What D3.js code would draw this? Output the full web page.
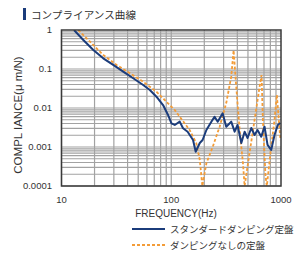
<!DOCTYPE html>
<html><head><meta charset="utf-8">
<script src="https://cdn.jsdelivr.net/npm/d3@7"></script>
<style>html,body{margin:0;padding:0;background:#fff;}svg{display:block;}</style>
</head><body>
<svg id="c" width="307" height="254"></svg>
<script>
const title = "コンプライアンス曲線";
const xLabel = "FREQUENCY(Hz)";
const yLabel = "COMPL IANCE(μ m/N)";
const xTicks = [10, 100, 1000];
const xTickLabels = ["10", "100", "1000"];
const yTicks = [1, 0.1, 0.01, 0.001, 0.0001];
const yTickLabels = ["1", "0.1", "0.01", "0.001", "0.0001"];
const seriesNames = ["スタンダードダンピング定盤", "ダンピングなしの定盤"];

const stdFreq = [13.0,15.8,19.5,24.0,29.6,36.5,45.0,55.5,63.8,73.3,84.2,93.5,100.4,107.6,119.5,128,141,158,167,182,193,209,232,248,265,294,317,352,378,402,435,466,496,536,574,611,661,708,754,814,873,935,989];
const stdComp = [1,0.554,0.307,0.188,0.127,0.0853,0.0578,0.0389,0.029,0.0195,0.0119,0.00662,0.00405,0.00367,0.00446,0.00302,0.00247,0.00151,0.000757,0.00127,0.00151,0.00273,0.00446,0.00598,0.00446,0.00731,0.00332,0.00446,0.00247,0.00367,0.00127,0.00247,0.0017,0.00307,0.00203,0.00273,0.00184,0.00332,0.00113,0.000838,0.00203,0.00367,0.00412];

const undFreq = [14.2,18.2,24.0,31.8,42.0,55.5,73.3,90.3,107.6,119.5,147,169,182,192,209,239,276,317,352,370,391,420,450,466,517,574,638,665,684,723,743,814,873,916,955,989];
const undComp = [1,0.501,0.229,0.127,0.0776,0.0472,0.0262,0.0145,0.0089,0.00598,0.00273,0.00127,0.000464,0.0001,0.000382,0.00102,0.00332,0.0134,0.0635,0.3,0.0352,0.00273,0.00039,0.0001,0.0007,0.00492,0.0352,0.07,0.00492,0.000174,0.0001,0.00102,0.00492,0.0216,0.00492,0.0015];

const navy = "#1b3c7b", orange = "#f39c38";
const svg = d3.select("#c");
const L = 61.5, R = 281, T = 30, B = 186;
const x = d3.scaleLog().domain([10, 1000]).range([L, R]);
const y = d3.scaleLog().domain([0.0001, 1]).range([B, T]);

// title
svg.append("rect").attr("x", 23).attr("y", 8).attr("width", 3).attr("height", 12).attr("fill", navy);
svg.append("text").attr("x", 31).attr("y", 18.5).attr("font-family", "'Noto Sans CJK JP'")
  .attr("font-size", 10.6).attr("fill", "#333").text(title);

// plot bg + grid
svg.append("rect").attr("x", L).attr("y", T).attr("width", R - L).attr("height", B - T).attr("fill", "#fff");
const g = svg.append("g");
const xMinor = [];
for (let d = 10; d < 1000; d *= 10) for (let k = 1; k < 10; k++) xMinor.push(d * k);
const yMinor = [];
for (let d = 0.0001; d < 1; d *= 10) for (let k = 1; k < 10; k++) yMinor.push(+(d * k).toPrecision(3));
g.selectAll(".vx").data(xMinor).join("line")
  .attr("x1", d => x(d)).attr("x2", d => x(d)).attr("y1", T).attr("y2", B)
  .attr("stroke", "#a2a2a2").attr("stroke-width", 1.2);
g.selectAll(".hy").data(yMinor).join("line")
  .attr("y1", d => y(d)).attr("y2", d => y(d)).attr("x1", L).attr("x2", R)
  .attr("stroke", "#a2a2a2").attr("stroke-width", 1.2);

// clip
svg.append("clipPath").attr("id", "clip").append("rect").attr("x", L).attr("y", T).attr("width", R - L).attr("height", B - T);

const line = d3.line().x(d => x(d[0])).y(d => y(d[1]));
const std = stdFreq.map((f, i) => [f, stdComp[i]]);
const und = undFreq.map((f, i) => [f, undComp[i]]);
svg.append("path").datum(und).attr("d", line).attr("clip-path", "url(#clip)")
  .attr("fill", "none").attr("stroke", orange).attr("stroke-width", 1.8).attr("stroke-dasharray", "3,2");
svg.append("path").datum(std).attr("d", line).attr("clip-path", "url(#clip)")
  .attr("fill", "none").attr("stroke", navy).attr("stroke-width", 2).attr("stroke-linejoin", "round");

// frame
svg.append("rect").attr("x", L).attr("y", T).attr("width", R - L).attr("height", B - T)
  .attr("fill", "none").attr("stroke", "#3a3a3a").attr("stroke-width", 1.5);

// axes labels
const font = "'Liberation Sans', Arial, sans-serif";
svg.selectAll(".yt").data(yTicks).join("text")
  .attr("x", 52).attr("y", d => y(d) + 3.3).attr("text-anchor", "end")
  .attr("font-family", font).attr("font-size", 9.5).attr("fill", "#333")
  .text((d, i) => yTickLabels[i]);
svg.selectAll(".xt").data(xTicks).join("text")
  .attr("x", d => x(d)).attr("y", 203).attr("text-anchor", "middle")
  .attr("font-family", font).attr("font-size", 9.5).attr("fill", "#333")
  .text((d, i) => xTickLabels[i]);
svg.append("text").attr("x", 176).attr("y", 217).attr("text-anchor", "middle")
  .attr("font-family", font).attr("font-size", 10).attr("fill", "#333").text(xLabel);
svg.append("text").attr("transform", "translate(22,115) rotate(-90)").attr("text-anchor", "middle")
  .attr("font-family", font).attr("font-size", 11.5).attr("fill", "#333").text(yLabel);

// legend
const lg = [{c: navy, dash: null, w: 2}, {c: orange, dash: "3,2", w: 1.8}];
lg.forEach((s, i) => {
  const yy = 229 + i * 16;
  svg.append("line").attr("x1", 132).attr("x2", 165).attr("y1", yy).attr("y2", yy)
    .attr("stroke", s.c).attr("stroke-width", s.w).attr("stroke-dasharray", s.dash);
  svg.append("text").attr("x", 170).attr("y", yy + 3.5).attr("font-family", "'Noto Sans CJK JP'")
    .attr("font-size", 9.5).attr("fill", "#333").text(seriesNames[i]);
});
</script>
</body></html>
